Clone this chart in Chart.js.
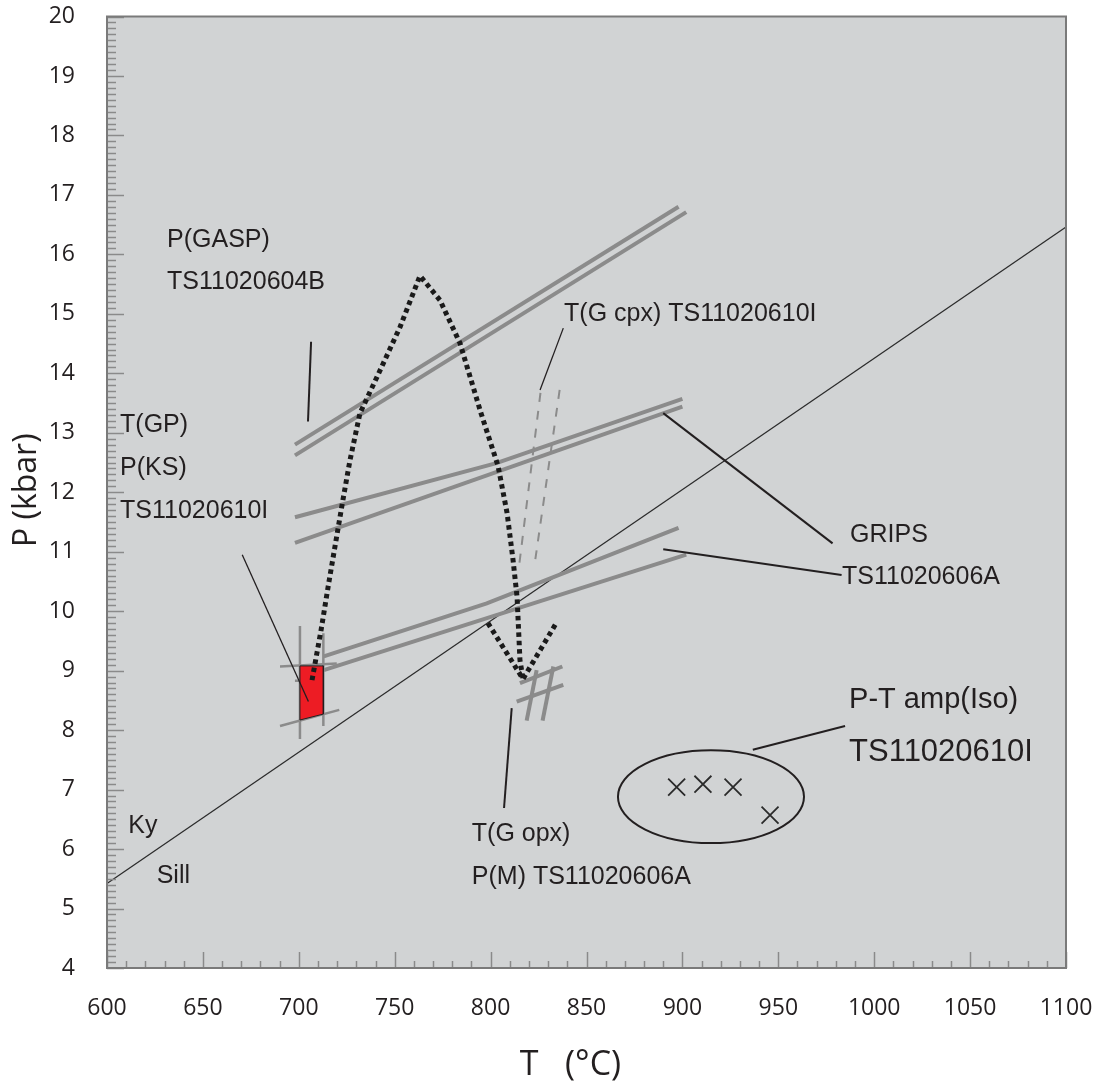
<!DOCTYPE html>
<html>
<head>
<meta charset="utf-8">
<title>P–T diagram</title>
<script src="https://cdn.jsdelivr.net/npm/chart.js@4.4.1/dist/chart.umd.min.js"></script>
<style>
  html, body { margin: 0; padding: 0; background: #ffffff; }
  #wrap { width: 1099px; height: 1085px; position: relative; }
</style>
</head>
<body>
<div id="wrap"><canvas id="pt" width="1099" height="1085"></canvas></div>
<script>
// ---- Axis ranges and tick labels ----
const tempTicks = [600, 650, 700, 750, 800, 850, 900, 950, 1000, 1050, 1100];
const presTicks = [4, 5, 6, 7, 8, 9, 10, 11, 12, 13, 14, 15, 16, 17, 18, 19, 20];

// ---- Kyanite / sillimanite boundary ----
const kySillT = [600, 1100];
const kySillP = [5.42, 16.46];

// ---- P(GASP) TS11020604B ----
const gaspUpperT = [698, 898];
const gaspUpperP = [12.80, 16.80];
const gaspLowerT = [698, 902];
const gaspLowerP = [12.62, 16.71];

// ---- T(GP) / P(KS) TS11020610I ----
const gpUpperT = [698, 803, 900];
const gpUpperP = [11.58, 12.49, 13.57];
const gpLowerT = [698, 900];
const gpLowerP = [11.15, 13.44];

// ---- GRIPS TS11020606A ----
const gripsUpperT = [713, 798, 898];
const gripsUpperP = [9.24, 10.13, 11.40];
const gripsLowerT = [713, 902];
const gripsLowerP = [9.01, 10.95];

// ---- T(G cpx) TS11020610I (dashed) ----
const cpxLeftT = [826, 815];
const cpxLeftP = [13.67, 10.80];
const cpxRightT = [836, 823];
const cpxRightP = [13.72, 10.80];

// ---- T(G opx) / P(M) TS11020606A cross-hatch ----
const opxH1T = [815.3, 837.4], opxH1P = [8.79, 9.07];
const opxH2T = [813.6, 837.9], opxH2P = [8.48, 8.76];
const opxV1T = [824.0, 818.8], opxV1P = [9.01, 8.16];
const opxV2T = [832.7, 827.1], opxV2P = [9.07, 8.16];

// ---- T(GP)-P(KS) intersection box and its bracketing lines ----
const ksBoxT = [700.6, 712.8, 712.8, 700.6, 700.6];
const ksBoxP = [9.08, 9.08, 8.27, 8.17, 9.08];
const ksLeftT = [700.6, 700.6], ksLeftP = [9.75, 7.85];
const ksRightT = [712.8, 712.8], ksRightP = [9.63, 8.07];
const ksTopT = [690.2, 719.8], ksTopP = [9.07, 9.12];
const ksBotT = [690.2, 721.1], ksBotP = [8.07, 8.34];
const ksStubT = [698, 701.5], ksStubP = [8.83, 8.83];

// ---- P-T path (dotted) ----
const pathT = [706.9, 711.6, 715.7, 723.0, 726.7, 731.9, 740.8, 752.8, 763.2,
               773.6, 784.0, 795.0, 803.9, 808.6, 811.7, 813.8, 815.3, 816.9];
const pathP = [8.84, 9.68, 10.49, 11.87, 12.54, 13.33, 13.94, 14.78, 15.64,
               15.23, 14.51, 13.33, 12.44, 11.65, 10.86, 10.24, 9.18, 8.86];
const pathVT = [798.6, 816.9, 834.6];
const pathVP = [9.80, 8.86, 9.82];

// ---- P-T amp(Iso) TS11020610I results ----
const amphT = [897.0, 910.7, 926.4, 945.7];
const amphP = [7.04, 7.09, 7.04, 6.57];
const amphEllipseCenter = [914.9, 6.88];
const amphEllipseRadius = [48.5, 0.78];

// ---- Leader lines from labels ----
const leaderGaspT = [706.4, 704.8], leaderGaspP = [14.53, 13.19];
const leaderKsT = [670.5, 705.0], leaderKsP = [10.95, 8.48];
const leaderCpxT = [837.9, 825.8], leaderCpxP = [14.76, 13.72];
const leaderGripsT = [890.0, 978.3], leaderGripsP = [13.33, 11.14];
const leaderGripsSampleT = [890.0, 983.0], leaderGripsSampleP = [11.04, 10.61];
const leaderOpxT = [811.0, 807.0], leaderOpxP = [8.37, 6.69];
const leaderAmphT = [936.7, 984.8], leaderAmphP = [7.67, 8.07];

// ---- Text labels (left edge T, vertical centre P) ----
const labelText = ['P(GASP)', 'TS11020604B', 'T(GP)', 'P(KS)', 'TS11020610I',
                   'T(G cpx) TS11020610I', 'GRIPS', 'TS11020606A',
                   'T(G opx)', 'P(M) TS11020606A', 'Ky', 'Sill'];
const labelT = [631.3, 631.3, 606.8, 606.8, 606.8, 838.3, 987.4, 983.2, 790.2, 790.2, 611.1, 625.9];
const labelP = [16.24, 15.54, 13.13, 12.41, 11.69, 15.00, 11.28, 10.57, 6.25, 5.52, 6.39, 5.54];
const bigLabelText = ['P-T amp(Iso)', 'TS11020610I'];
const bigLabelT = [986.9, 986.9];
const bigLabelP = [8.51, 7.63];

// ---- Helpers ----
const pts = (T, P) => T.map((t, i) => ({ x: t, y: P[i] }));
function lineSet(T, P, style) {
  return Object.assign({
    data: pts(T, P), showLine: true, pointRadius: 0, pointHoverRadius: 0,
    fill: false, tension: 0, borderCapStyle: 'butt', borderJoinStyle: 'miter'
  }, style);
}

const GREY = '#8b8b8b';
const INK = '#231f20';
const greyThick = { borderColor: GREY, borderWidth: 4, order: 9 };
const greyThin = { borderColor: GREY, borderWidth: 2.5, order: 7 };
const leader = { borderColor: INK, borderWidth: 2, order: 4 };
const leaderFine = { borderColor: INK, borderWidth: 1.3, order: 4 };

const datasets = [
  lineSet(kySillT, kySillP, { borderColor: '#2b2b2b', borderWidth: 1.2, order: 10 }),
  lineSet(gaspUpperT, gaspUpperP, greyThick),
  lineSet(gaspLowerT, gaspLowerP, greyThick),
  lineSet(gpUpperT, gpUpperP, greyThick),
  lineSet(gpLowerT, gpLowerP, greyThick),
  lineSet(gripsUpperT, gripsUpperP, greyThick),
  lineSet(gripsLowerT, gripsLowerP, greyThick),
  lineSet(cpxLeftT, cpxLeftP, { borderColor: GREY, borderWidth: 2, borderDash: [9, 9], order: 8 }),
  lineSet(cpxRightT, cpxRightP, { borderColor: GREY, borderWidth: 2, borderDash: [9, 9], order: 8 }),
  lineSet(opxH1T, opxH1P, greyThick),
  lineSet(opxH2T, opxH2P, greyThick),
  lineSet(opxV1T, opxV1P, greyThick),
  lineSet(opxV2T, opxV2P, greyThick),
  lineSet(ksLeftT, ksLeftP, greyThin),
  lineSet(ksRightT, ksRightP, greyThin),
  lineSet(ksTopT, ksTopP, greyThin),
  lineSet(ksBotT, ksBotP, greyThin),
  lineSet(ksStubT, ksStubP, greyThin),
  lineSet(ksBoxT, ksBoxP, { borderColor: INK, borderWidth: 1, backgroundColor: '#ed1c24', fill: 'shape', order: 6 }),
  lineSet(pathT, pathP, { borderColor: '#1a1a1a', borderWidth: 5, borderDash: [4.5, 3.8], order: 5 }),
  lineSet(pathVT, pathVP, { borderColor: '#1a1a1a', borderWidth: 5, borderDash: [4.5, 3.8], order: 5 }),
  lineSet(leaderGaspT, leaderGaspP, leader),
  lineSet(leaderKsT, leaderKsP, leaderFine),
  lineSet(leaderCpxT, leaderCpxP, leaderFine),
  lineSet(leaderGripsT, leaderGripsP, leader),
  lineSet(leaderGripsSampleT, leaderGripsSampleP, leader),
  lineSet(leaderOpxT, leaderOpxP, leader),
  lineSet(leaderAmphT, leaderAmphP, leader),
  {
    data: pts(amphT, amphP), showLine: false, pointStyle: 'crossRot',
    pointRadius: 12, pointBorderWidth: 1.8, pointBorderColor: '#2b2b2b',
    pointBackgroundColor: 'transparent', pointHoverRadius: 12, order: 3
  }
];

// Plot background, inward ticks, frame, ellipse, labels and axis titles
const plotFrame = {
  id: 'plotFrame',
  beforeDatasetsDraw(chart) {
    const { ctx, chartArea: a } = chart;
    ctx.save();
    ctx.fillStyle = '#d1d3d4';
    ctx.fillRect(a.left, a.top, a.right - a.left, a.bottom - a.top);
    ctx.restore();
  },
  afterDatasetsDraw(chart) {
    const { ctx, chartArea: a, scales: { x, y } } = chart;
    ctx.save();
    ctx.strokeStyle = '#8a8a8a';
    ctx.lineWidth = 1.5;
    ctx.beginPath();
    for (let i = 0; i <= (y.max - y.min) * 10; i++) {
      const v = y.min + i / 10;
      const py = Math.round(y.getPixelForValue(v)) + 0.5;
      const len = (i % 10 === 0) ? 17 : 9;
      ctx.moveTo(a.left, py); ctx.lineTo(a.left + len, py);
    }
    for (let i = 0; i <= (x.max - x.min) / 10; i++) {
      const v = x.min + i * 10;
      const px = Math.round(x.getPixelForValue(v)) + 0.5;
      const len = (i % 5 === 0) ? 16 : 7;
      ctx.moveTo(px, a.bottom); ctx.lineTo(px, a.bottom - len);
    }
    ctx.stroke();
    ctx.strokeStyle = '#7a7a7a';
    ctx.lineWidth = 2;
    ctx.strokeRect(a.left, a.top, a.right - a.left, a.bottom - a.top);

    // amphibole result ellipse
    const cx = x.getPixelForValue(amphEllipseCenter[0]);
    const cy = y.getPixelForValue(amphEllipseCenter[1]);
    const rx = Math.abs(x.getPixelForValue(amphEllipseCenter[0] + amphEllipseRadius[0]) - cx);
    const ry = Math.abs(y.getPixelForValue(amphEllipseCenter[1] + amphEllipseRadius[1]) - cy);
    ctx.strokeStyle = INK;
    ctx.lineWidth = 2;
    ctx.beginPath();
    ctx.ellipse(cx, cy, rx, ry, 0, 0, Math.PI * 2);
    ctx.stroke();

    ctx.fillStyle = INK;
    ctx.textAlign = 'left';
    ctx.textBaseline = 'middle';
    ctx.font = '25px "Liberation Sans", Arial, sans-serif';
    labelText.forEach((t, i) => {
      ctx.fillText(t, x.getPixelForValue(labelT[i]), y.getPixelForValue(labelP[i]));
    });
    const bigSizes = [29, 31];
    bigLabelText.forEach((t, i) => {
      ctx.font = bigSizes[i] + 'px "Liberation Sans", Arial, sans-serif';
      ctx.fillText(t, x.getPixelForValue(bigLabelT[i]), y.getPixelForValue(bigLabelP[i]));
    });
    ctx.restore();
  },
  afterDraw(chart) {
    const { ctx, chartArea: a } = chart;
    ctx.save();
    ctx.fillStyle = INK;
    ctx.font = '34px "Open Sans", sans-serif';
    ctx.textAlign = 'center';
    ctx.textBaseline = 'middle';
    ctx.fillText('T   (°C)', (a.left + a.right) / 2 - 16, a.bottom + 97);
    ctx.translate(a.left - 80, (a.top + a.bottom) / 2 - 2);
    ctx.rotate(-Math.PI / 2);
    ctx.font = '32px "Open Sans", sans-serif';
    ctx.fillText('P (kbar)', 0, 0);
    ctx.restore();
  }
};

new Chart(document.getElementById('pt'), {
  type: 'scatter',
  data: { datasets },
  options: {
    responsive: false,
    animation: false,
    events: [],
    layout: { padding: { left: 0, right: 33, top: 16.5, bottom: 0 } },
    plugins: { legend: { display: false }, tooltip: { enabled: false } },
    scales: {
      x: {
        type: 'linear', min: 600, max: 1100,
        afterBuildTicks: s => { s.ticks = tempTicks.map(v => ({ value: v })); },
        afterFit: s => { s.height = 117; s.paddingLeft = 0; s.paddingRight = 0; },
        ticks: { padding: 27, color: INK, maxRotation: 0, autoSkip: false,
                 callback: v => String(v),
                 font: { family: 'Open Sans', size: 23 } },
        grid: { display: false, drawTicks: false },
        border: { display: false }
      },
      y: {
        type: 'linear', min: 4, max: 20,
        afterBuildTicks: s => { s.ticks = presTicks.map(v => ({ value: v })); },
        afterFit: s => { s.width = 107; s.paddingTop = 0; s.paddingBottom = 0; },
        ticks: { padding: 32, color: INK, autoSkip: false,
                 callback: v => String(v),
                 font: { family: 'Open Sans', size: 23 } },
        grid: { display: false, drawTicks: false },
        border: { display: false }
      }
    }
  },
  plugins: [plotFrame]
});
</script>
</body>
</html>
